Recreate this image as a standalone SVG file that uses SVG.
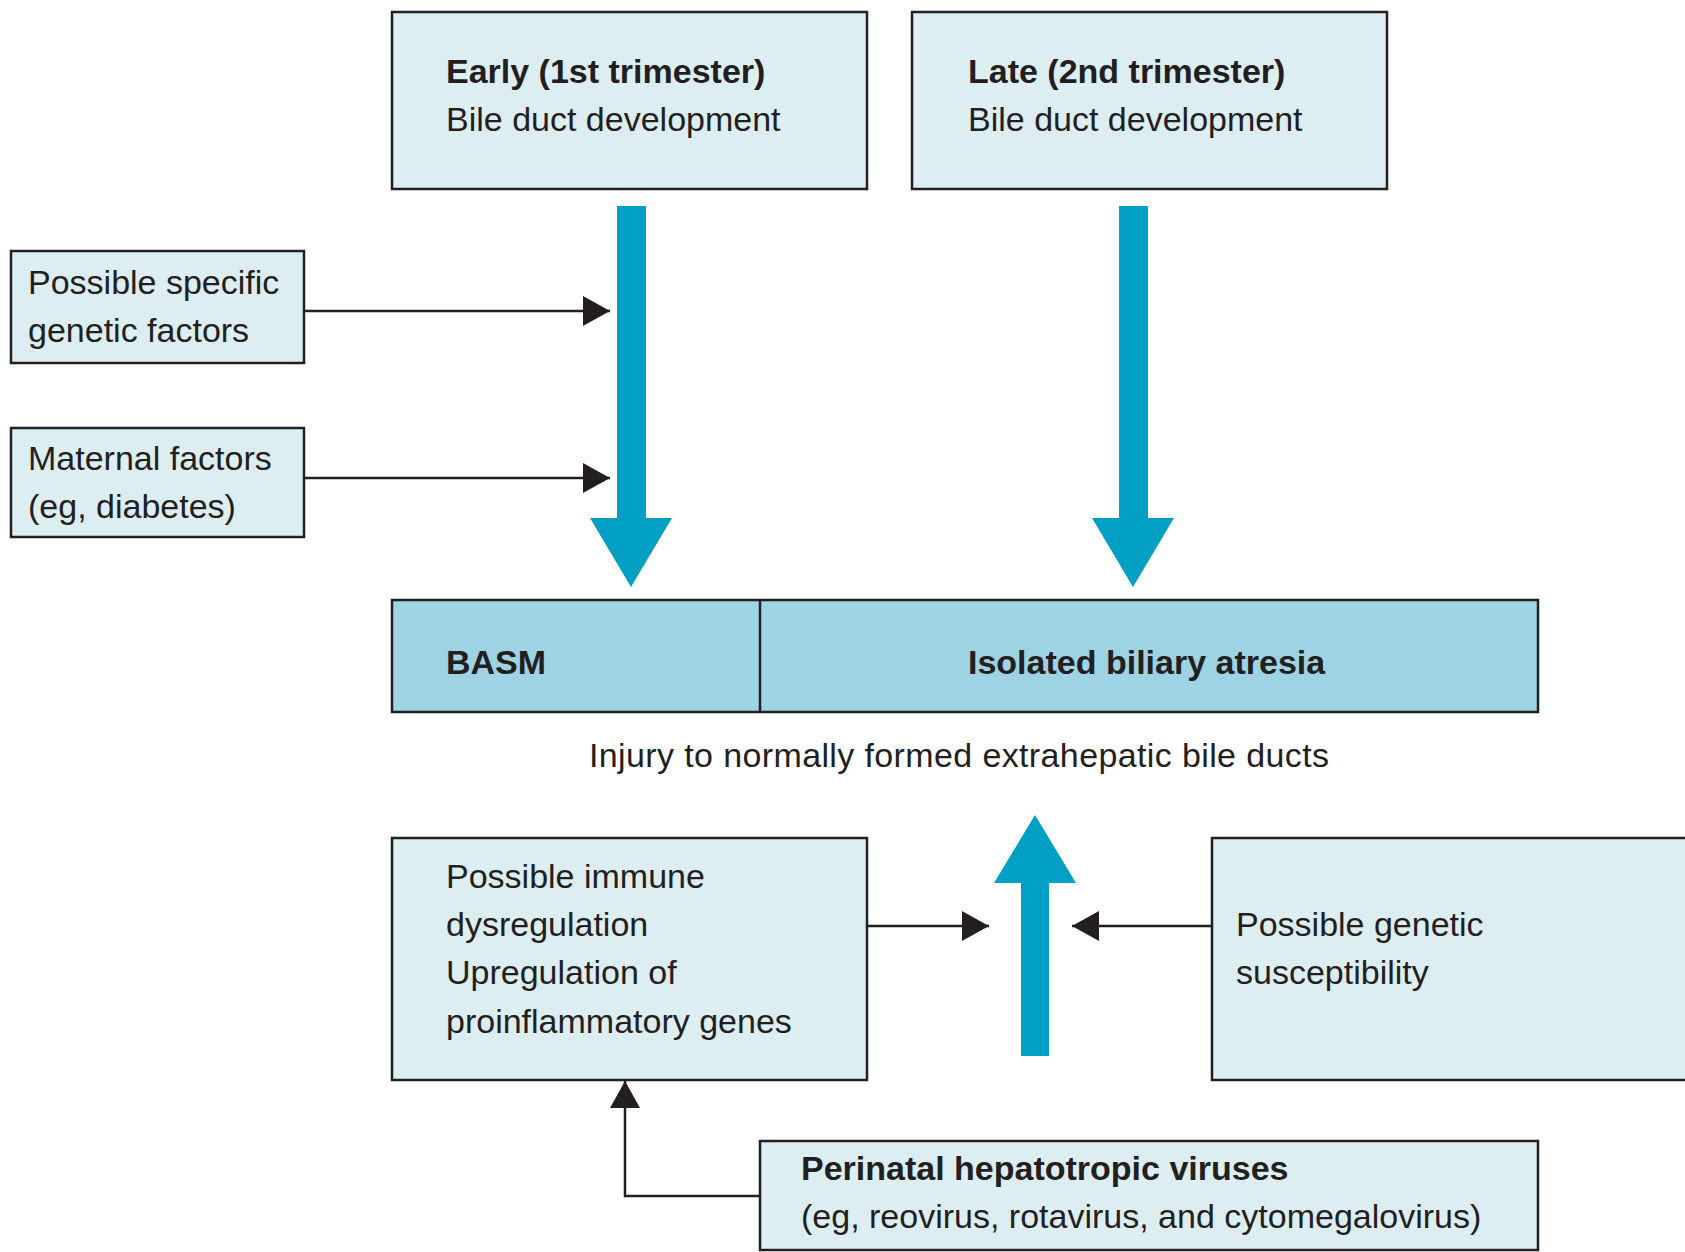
<svg xmlns="http://www.w3.org/2000/svg" width="1685" height="1252" viewBox="0 0 1685 1252">
<defs>
<style>
.box{fill:#ddeef3;stroke:#231f20;stroke-width:2.5}
.bar{fill:#9dd3e3;stroke:#231f20;stroke-width:2.5}
.t{font-family:"Liberation Sans",Arial,sans-serif;font-size:34px;fill:#231f20}
.b{font-weight:bold}
.blue{fill:#009fc3}
.con{fill:none;stroke:#231f20;stroke-width:2.5}
</style>
<marker id="ah" markerUnits="userSpaceOnUse" markerWidth="28" markerHeight="30" viewBox="0 0 28 30" refX="27" refY="15" orient="auto">
<path d="M0,0 L27,15 L0,30 Z" fill="#231f20"/>
</marker>
</defs>
<rect width="1685" height="1252" fill="#ffffff"/>

<g id="early">
<rect class="box" x="392" y="12" width="475" height="177"/>
<text class="t b" x="446" y="83">Early (1st trimester)</text>
<text class="t" x="446" y="131">Bile duct development</text>
</g>

<g id="late">
<rect class="box" x="912" y="12" width="475" height="177"/>
<text class="t b" x="968" y="83">Late (2nd trimester)</text>
<text class="t" x="968" y="131">Bile duct development</text>
</g>

<g id="genetic-factors">
<rect class="box" x="11" y="251" width="293" height="112"/>
<text class="t" x="28" y="294">Possible specific</text>
<text class="t" x="28" y="342">genetic factors</text>
</g>

<g id="maternal">
<rect class="box" x="11" y="428" width="293" height="109"/>
<text class="t" x="28" y="470">Maternal factors</text>
<text class="t" x="28" y="518">(eg, diabetes)</text>
</g>

<g id="outcome">
<rect class="bar" x="392" y="600" width="1146" height="112"/>
<line x1="760" y1="600" x2="760" y2="712" stroke="#231f20" stroke-width="2.5"/>
<text class="t b" x="446" y="674">BASM</text>
<text class="t b" x="968" y="674">Isolated biliary atresia</text>
</g>

<g id="injury-label">
<text class="t" x="589" y="767" textLength="740">Injury to normally formed extrahepatic bile ducts</text>
</g>

<g id="immune">
<rect class="box" x="392" y="838" width="475" height="242"/>
<text class="t" x="446" y="888">Possible immune</text>
<text class="t" x="446" y="936">dysregulation</text>
<text class="t" x="446" y="984">Upregulation of</text>
<text class="t" x="446" y="1033">proinflammatory genes</text>
</g>

<g id="susceptibility">
<rect class="box" x="1212" y="838" width="490" height="242"/>
<text class="t" x="1236" y="936">Possible genetic</text>
<text class="t" x="1236" y="984">susceptibility</text>
</g>

<g id="viruses">
<rect class="box" x="760" y="1141" width="778" height="109"/>
<text class="t b" x="801" y="1180">Perinatal hepatotropic viruses</text>
<text class="t" x="801" y="1228">(eg, reovirus, rotavirus, and cytomegalovirus)</text>
</g>

<g id="connectors">
<polygon class="blue" points="617,206 646,206 646,518 672,518 631,587 590,518 617,518"/>
<polygon class="blue" points="1119,206 1148,206 1148,518 1174,518 1133,587 1092,518 1119,518"/>
<polygon class="blue" points="1021,1056 1049,1056 1049,883 1076,883 1035,815 994,883 1021,883"/>
<path class="con" d="M304,311 H610" marker-end="url(#ah)"/>
<path class="con" d="M304,478 H610" marker-end="url(#ah)"/>
<path class="con" d="M867,926 H989" marker-end="url(#ah)"/>
<path class="con" d="M1212,926 H1072" marker-end="url(#ah)"/>
<path class="con" d="M760,1196 H625 V1081" marker-end="url(#ah)"/>
</g>
</svg>
